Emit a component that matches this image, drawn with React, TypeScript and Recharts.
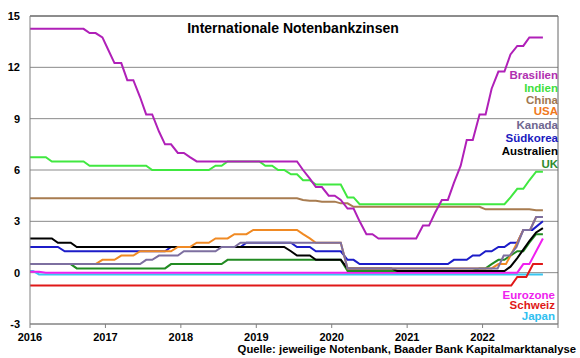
import { LineChart, Line, XAxis, YAxis, CartesianGrid, ReferenceLine } from 'recharts'

type Pt = [number, number]

// [Zeitpunkt (Dezimaljahr), Leitzins in %]
const brasilien: Pt[] = [
  [2016.0, 14.25], [2016.71, 14.25], [2016.79, 14.0], [2016.87, 14.0], [2016.96, 13.75],
  [2017.04, 13.0], [2017.12, 12.25], [2017.21, 12.25], [2017.29, 11.25], [2017.37, 11.25],
  [2017.46, 10.25], [2017.54, 9.25], [2017.62, 9.25], [2017.71, 8.25], [2017.79, 7.5],
  [2017.87, 7.5], [2017.96, 7.0], [2018.04, 7.0], [2018.12, 6.75], [2018.21, 6.5],
  [2019.54, 6.5], [2019.62, 6.0], [2019.71, 5.5], [2019.79, 5.0], [2019.87, 5.0],
  [2019.96, 4.5], [2020.04, 4.5], [2020.12, 4.25], [2020.21, 3.75], [2020.29, 3.75],
  [2020.37, 3.0], [2020.46, 2.25], [2020.54, 2.25], [2020.62, 2.0], [2021.12, 2.0],
  [2021.21, 2.75], [2021.29, 2.75], [2021.37, 3.5], [2021.46, 4.25], [2021.54, 4.25],
  [2021.62, 5.25], [2021.71, 6.25], [2021.79, 7.75], [2021.87, 7.75], [2021.96, 9.25],
  [2022.04, 9.25], [2022.12, 10.75], [2022.21, 11.75], [2022.29, 11.75], [2022.37, 12.75],
  [2022.46, 13.25], [2022.54, 13.25], [2022.62, 13.75], [2022.8, 13.75],
]

const indien: Pt[] = [
  [2016.0, 6.75], [2016.21, 6.75], [2016.29, 6.5], [2016.71, 6.5], [2016.79, 6.25],
  [2017.54, 6.25], [2017.62, 6.0], [2018.37, 6.0], [2018.46, 6.25], [2018.54, 6.25],
  [2018.62, 6.5], [2019.04, 6.5], [2019.12, 6.25], [2019.21, 6.25], [2019.29, 6.0],
  [2019.37, 6.0], [2019.46, 5.75], [2019.54, 5.75], [2019.62, 5.4], [2019.71, 5.4],
  [2019.79, 5.15], [2020.12, 5.15], [2020.21, 4.4], [2020.29, 4.4], [2020.37, 4.0],
  [2022.29, 4.0], [2022.37, 4.4], [2022.46, 4.9], [2022.54, 4.9], [2022.62, 5.4],
  [2022.71, 5.9], [2022.8, 5.9],
]

const china: Pt[] = [
  [2016.0, 4.35], [2019.54, 4.35], [2019.62, 4.25], [2019.71, 4.2], [2019.79, 4.2],
  [2019.87, 4.15], [2020.04, 4.15], [2020.12, 4.05], [2020.21, 4.05], [2020.29, 3.85],
  [2021.96, 3.85], [2022.04, 3.7], [2022.62, 3.7], [2022.71, 3.65], [2022.8, 3.65],
]

const usa: Pt[] = [
  [2016.0, 0.5], [2016.87, 0.5], [2016.96, 0.75], [2017.12, 0.75], [2017.21, 1.0],
  [2017.37, 1.0], [2017.46, 1.25], [2017.87, 1.25], [2017.96, 1.5], [2018.12, 1.5],
  [2018.21, 1.75], [2018.37, 1.75], [2018.46, 2.0], [2018.62, 2.0], [2018.71, 2.25],
  [2018.87, 2.25], [2018.96, 2.5], [2019.54, 2.5], [2019.62, 2.25], [2019.71, 2.0],
  [2019.79, 1.75], [2020.12, 1.75], [2020.21, 0.25], [2022.12, 0.25], [2022.21, 0.5],
  [2022.31, 0.5], [2022.37, 1.0], [2022.46, 1.75], [2022.54, 2.5], [2022.63, 2.5],
  [2022.71, 3.25], [2022.8, 3.25],
]

const kanada: Pt[] = [
  [2016.0, 0.5], [2017.46, 0.5], [2017.54, 0.75], [2017.62, 0.75], [2017.71, 1.0],
  [2017.96, 1.0], [2018.04, 1.25], [2018.46, 1.25], [2018.54, 1.5], [2018.71, 1.5],
  [2018.79, 1.75], [2020.12, 1.75], [2020.21, 0.25], [2022.2, 0.25], [2022.28, 1.0],
  [2022.36, 1.0], [2022.45, 1.5], [2022.54, 2.5], [2022.63, 2.5], [2022.71, 3.25],
  [2022.8, 3.25],
]

const suedkorea: Pt[] = [
  [2016.0, 1.5], [2016.37, 1.5], [2016.46, 1.25], [2017.79, 1.25], [2017.87, 1.5],
  [2018.79, 1.5], [2018.87, 1.75], [2019.46, 1.75], [2019.54, 1.5], [2019.71, 1.5],
  [2019.79, 1.25], [2020.12, 1.25], [2020.21, 0.75], [2020.29, 0.75], [2020.37, 0.5],
  [2021.54, 0.5], [2021.62, 0.75], [2021.79, 0.75], [2021.87, 1.0], [2021.96, 1.0],
  [2022.04, 1.25], [2022.12, 1.25], [2022.21, 1.5], [2022.29, 1.5], [2022.37, 1.75],
  [2022.46, 1.75], [2022.54, 2.5], [2022.66, 2.5], [2022.8, 3.0],
]

const australien: Pt[] = [
  [2016.0, 2.0], [2016.29, 2.0], [2016.37, 1.75], [2016.54, 1.75], [2016.62, 1.5],
  [2019.37, 1.5], [2019.46, 1.25], [2019.54, 1.0], [2019.71, 1.0], [2019.79, 0.75],
  [2020.12, 0.75], [2020.21, 0.25], [2020.79, 0.25], [2020.87, 0.1], [2022.29, 0.1],
  [2022.37, 0.35], [2022.46, 0.85], [2022.54, 1.35], [2022.62, 1.85], [2022.71, 2.35],
  [2022.8, 2.6],
]

const uk: Pt[] = [
  [2016.0, 0.5], [2016.54, 0.5], [2016.62, 0.25], [2017.79, 0.25], [2017.87, 0.5],
  [2018.54, 0.5], [2018.62, 0.75], [2020.12, 0.75], [2020.21, 0.1], [2021.87, 0.1],
  [2021.96, 0.25], [2022.04, 0.25], [2022.12, 0.5], [2022.21, 0.75], [2022.29, 0.75],
  [2022.37, 1.0], [2022.46, 1.25], [2022.54, 1.25], [2022.62, 1.75], [2022.71, 2.25],
  [2022.8, 2.25],
]

const eurozone: Pt[] = [
  [2016.0, 0.05], [2016.12, 0.05], [2016.21, 0.0], [2022.46, 0.0], [2022.54, 0.5],
  [2022.62, 0.5], [2022.71, 1.25], [2022.8, 2.0],
]

const schweiz: Pt[] = [
  [2016.0, -0.75], [2022.38, -0.75], [2022.46, -0.25], [2022.58, -0.25], [2022.67, 0.5],
  [2022.8, 0.5],
]

const japan: Pt[] = [
  [2016.0, 0.1], [2016.04, 0.1], [2016.12, -0.1], [2022.8, -0.1],
]

const yearTicks = [2016, 2017, 2018, 2019, 2020, 2021, 2022, 2023]
const yTicks = [-3, 0, 3, 6, 9, 12, 15]

// Zeichenreihenfolge: erste Serie liegt unten
const series = [
  { name: 'Japan', color: '#38C6F0', pts: japan },
  { name: 'Eurozone', color: '#F020F0', pts: eurozone },
  { name: 'Schweiz', color: '#E01818', pts: schweiz },
  { name: 'UK', color: '#228B22', pts: uk },
  { name: 'Südkorea', color: '#1C1CC8', pts: suedkorea },
  { name: 'Australien', color: '#000000', pts: australien },
  { name: 'USA', color: '#F08A24', pts: usa },
  { name: 'Kanada', color: '#7D6FA0', pts: kanada },
  { name: 'China', color: '#A87C50', pts: china },
  { name: 'Indien', color: '#40E840', pts: indien },
  { name: 'Brasilien', color: '#B020B8', pts: brasilien },
]

const toRows = (pts: Pt[]) => pts.map(([x, y]) => ({ x, y }))

const font = '"Liberation Sans", Arial, sans-serif'

export default function App() {
  const tick = { fill: '#000', fontSize: 11, fontWeight: 700, fontFamily: font }

  return (
    <div
      style={{
        position: 'fixed',
        left: 0,
        top: 0,
        width: 580,
        height: 358,
        background: '#fff',
      }}
    >
      <LineChart width={580} height={358} margin={{ top: 16, right: 22, bottom: 14, left: 8 }}>
        <CartesianGrid vertical={false} stroke="#8a8a8a" />
        <XAxis
          type="number"
          dataKey="x"
          domain={[2016, 2023]}
          ticks={yearTicks}
          tickFormatter={(v: number) => (v === 2023 ? '' : String(v))}
          stroke="#808080"
          tickSize={4}
          tickMargin={5}
          height={20}
          tick={tick}
          allowDataOverflow
        />
        <YAxis
          type="number"
          domain={[-3, 15]}
          ticks={yTicks}
          stroke="#808080"
          tickLine={false}
          tickSize={0}
          tickMargin={10}
          width={22}
          tick={tick}
        />
        <ReferenceLine y={15} stroke="#555" />
        <ReferenceLine x={2023} stroke="#666" />
        {series.map((s) => (
          <Line
            key={s.name}
            name={s.name}
            data={toRows(s.pts)}
            dataKey="y"
            type="linear"
            stroke={s.color}
            strokeWidth={2}
            dot={false}
            isAnimationActive={false}
          />
        ))}
      </LineChart>

      <svg
        width={580}
        height={358}
        style={{ position: 'absolute', left: 0, top: 0, pointerEvents: 'none' }}
        fontFamily={font}
        fontWeight={700}
      >
        <text x={293} y={33} textAnchor="middle" fontSize={14} fill="#000">
          Internationale Notenbankzinsen
        </text>

        <g fontSize={11.5} textAnchor="end">
          <text x={558} y={79} fill="#B030B0">Brasilien</text>
          <text x={558} y={92} fill="#40E040">Indien</text>
          <text x={558} y={103.5} fill="#A07850">China</text>
          <text x={558} y={114.5} fill="#F07820">USA</text>
          <text x={558} y={129} fill="#6E6690">Kanada</text>
          <text x={558} y={141.5} fill="#1A1AC0">Südkorea</text>
          <text x={558} y={155} fill="#000">Australien</text>
          <text x={558} y={167.5} fill="#2E8B2E">UK</text>
          <text x={555} y={298.5} fill="#EE22EE">Eurozone</text>
          <text x={555} y={309} fill="#E01818">Schweiz</text>
          <text x={555} y={319.5} fill="#30C0F0">Japan</text>
        </g>

        <text x={576} y={353} textAnchor="end" fontSize={11.3} fill="#000">
          Quelle: jeweilige Notenbank, Baader Bank Kapitalmarktanalyse
        </text>
      </svg>
    </div>
  )
}
